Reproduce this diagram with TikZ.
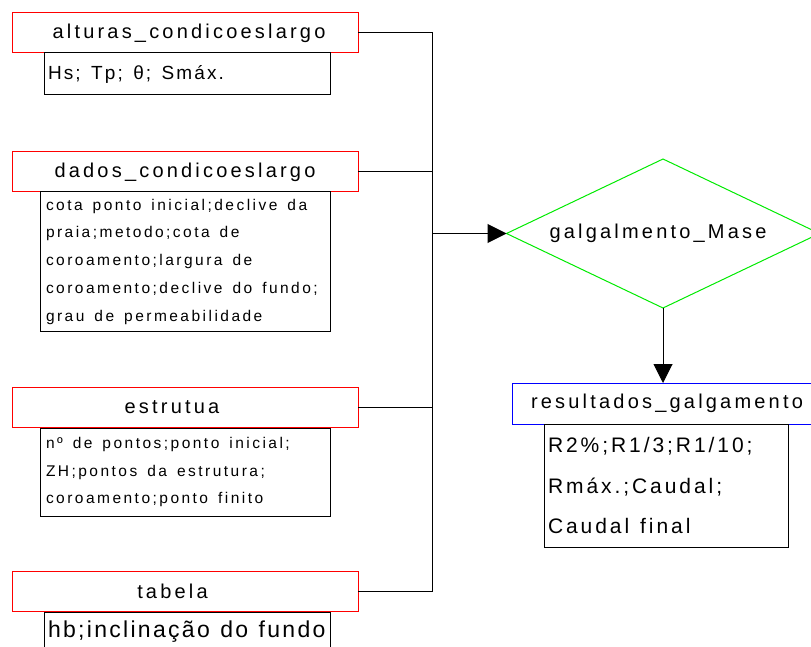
\documentclass[tikz,border=0pt]{standalone}
\usepackage{fontspec}
\setmainfont{Liberation Sans}
\newfontfamily\fttitle[LetterSpace=16]{Liberation Sans}
\newfontfamily\ftsubA[LetterSpace=11]{Liberation Sans}
\newfontfamily\ftsubB[LetterSpace=16]{Liberation Sans}
\newfontfamily\ftsubC[LetterSpace=10]{Liberation Sans}
\newfontfamily\ftsubD[LetterSpace=14]{Liberation Sans}
\newcommand\setws[1]{\spaceskip=#1\relax}
\usetikzlibrary{shapes.geometric,arrows.meta}
\definecolor{boxred}{RGB}{255,0,0}
\definecolor{dgreen}{RGB}{0,235,0}
\definecolor{rblue}{RGB}{0,0,255}
\begin{document}
\begin{tikzpicture}[x=1pt,y=-1pt,
  every node/.style={inner sep=0pt, outer sep=0pt},
  titlebox/.style={draw=boxred, line width=1pt, minimum width=346pt, minimum height=40pt,
    font=\fttitle\fontsize{20}{24}\selectfont},
  subbox/.style={draw=black, line width=1pt, align=left, anchor=north west},
  link/.style={draw=black, line width=1pt},
  arr/.style={link, -{Triangle[length=19pt,width=19pt]}}
]
\clip (0,0) rectangle (811,647);
\fill[white] (0,0) rectangle (811,647);

% left title boxes
\node[titlebox] (t1) at (185,33) {\hspace*{8pt}alturas\_condicoeslargo};
\node[titlebox] (t2) at (185,172) {dados\_condicoeslargo};
\node[titlebox] (t3) at (185,407.5) {estrutua\hspace*{26pt}};
\node[titlebox] (t4) at (185,591) {tabela\hspace*{25pt}};

% sub boxes
\node[subbox, inner xsep=4pt, text width=278pt, minimum height=42pt,
  font=\ftsubA\fontsize{19}{24}\selectfont] (s1) at (44,53) {\setws{10.5pt}Hs; Tp; θ; Smáx.};
\node[subbox, inner xsep=6pt, text width=278pt, minimum height=139pt,
  font=\ftsubB\fontsize{15.5}{27.75}\selectfont] (s2) at (40,192)
  {\setws{10pt}cota ponto inicial;declive da\\praia;metodo;cota de\\coroamento;largura de\\coroamento;declive do fundo;\\grau de permeabilidade};
\node[subbox, inner xsep=6pt, text width=278pt, minimum height=88pt,
  font=\ftsubB\fontsize{15.5}{27.5}\selectfont] (s3) at (40,428)
  {\setws{10pt}nº de pontos;ponto inicial;\\ZH;pontos da estrutura;\\coroamento;ponto finito};
\node[subbox, inner xsep=4pt, text width=278pt, minimum height=40pt,
  font=\ftsubC\fontsize{23}{26}\selectfont] (s4) at (44,612) {\setws{10.5pt}\mbox{hb;inclinação do fundo}};

% decision and result
\node[diamond, draw=dgreen, line width=1pt, aspect=2.1, minimum width=313pt, minimum height=149pt,
  font=\fttitle\fontsize{20}{24}\selectfont] (dia) at (663,233.5) {galgalmento\_Mase\hspace*{10pt}};
\node[draw=rblue, line width=1pt, minimum width=310pt, minimum height=41pt,
  font=\fttitle\fontsize{20}{24}\selectfont] (res) at (667,403.5) {resultados\_galgamento};
\node[subbox, inner xsep=4pt, text width=236pt, minimum height=123pt,
  font=\ftsubD\fontsize{21}{40.5}\selectfont] (s5) at (544,424)
  {\setws{11pt}R2\%;R1/3;R1/10;\\Rmáx.;Caudal;\\Caudal final};

% connectors
\coordinate (bus) at (432,0);
\draw[link] (t1.east) -| (bus |- t4.east) -- (t4.east);
\draw[link] (t2.east) -- (t2.east -| bus);
\draw[link] (t3.east) -- (t3.east -| bus);
\draw[arr] (bus |- dia.west) -- (dia.west);
\draw[arr] (dia.south) -- (dia.south |- res.north);
\end{tikzpicture}
\end{document}
